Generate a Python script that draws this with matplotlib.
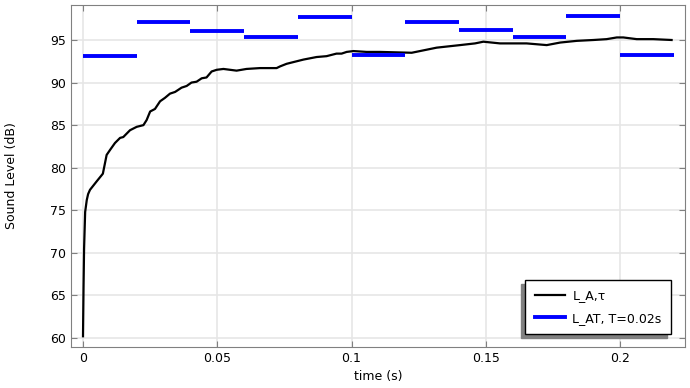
import matplotlib
matplotlib.use("Agg")
import matplotlib.pyplot as plt

# L_A,tau (time-weighted level)
t = [0.0, 0.0002, 0.0004, 0.0008, 0.0014, 0.0019, 0.0026, 0.0051, 0.0069, 0.0074,
     0.0088, 0.0101, 0.0119, 0.0138, 0.0150, 0.0175, 0.0200, 0.0225, 0.0237, 0.0250,
     0.0268, 0.0287, 0.0305, 0.0324, 0.0343, 0.0367, 0.0386, 0.0404, 0.0423, 0.0442,
     0.0460, 0.0479, 0.0498, 0.0523, 0.0572, 0.0609, 0.0659, 0.0721, 0.0734, 0.0758,
     0.0783, 0.0821, 0.0870, 0.0907, 0.0944, 0.0963, 0.0982, 0.1007, 0.1056, 0.1106,
     0.1224, 0.1255, 0.1317, 0.1404, 0.1460, 0.1491, 0.1553, 0.1652, 0.1727, 0.1777,
     0.1839, 0.1901, 0.1950, 0.1988, 0.2012, 0.2062, 0.2124, 0.2192]
la_tau = [60.2, 66.0, 70.5, 74.8, 76.2, 76.9, 77.4, 78.4, 79.1, 79.3,
          81.5, 82.1, 82.9, 83.5, 83.6, 84.4, 84.8, 85.0, 85.6, 86.6,
          86.9, 87.8, 88.2, 88.7, 88.9, 89.4, 89.6, 90.0, 90.1, 90.5,
          90.6, 91.3, 91.5, 91.6, 91.4, 91.6, 91.7, 91.7, 91.9, 92.2,
          92.4, 92.7, 93.0, 93.1, 93.4, 93.4, 93.6, 93.7, 93.6, 93.6,
          93.5, 93.7, 94.1, 94.4, 94.6, 94.8, 94.6, 94.6, 94.4, 94.7,
          94.9, 95.0, 95.1, 95.3, 95.3, 95.1, 95.1, 95.0]

# L_AT per 0.02 s interval
t_start = [0.0, 0.02, 0.04, 0.06, 0.08, 0.10, 0.12, 0.14, 0.16, 0.18, 0.20]
t_end = [0.02, 0.04, 0.06, 0.08, 0.10, 0.12, 0.14, 0.16, 0.18, 0.20, 0.22]
la_t = [93.1, 97.1, 96.1, 95.3, 97.7, 93.2, 97.1, 96.2, 95.3, 97.8, 93.2]

fig = plt.figure(figsize=(6.9, 3.88), dpi=100)
ax = fig.add_axes([0.1029, 0.1057, 0.8899, 0.8814])

ax.plot(t, la_tau, color="black", lw=1.6, label="L_A,τ", zorder=3)
ax.hlines(la_t, t_start, t_end, colors="blue", lw=2.8, zorder=3)
ax.plot([], [], color="blue", lw=2.8, label="L_AT, T=0.02s")

ax.set_xlim(-0.00447, 0.2242)
ax.set_ylim(58.94, 99.11)
ax.set_xticks([0, 0.05, 0.1, 0.15, 0.2])
ax.set_xticklabels(["0", "0.05", "0.1", "0.15", "0.2"])
ax.set_yticks([60, 65, 70, 75, 80, 85, 90, 95])

ax.grid(True, color="#e6e6e6", lw=1.2)
ax.set_axisbelow(True)
for s in ax.spines.values():
    s.set_color("#808080")
ax.tick_params(direction="in", top=True, right=True, color="#808080",
               labelsize=9, length=4)
ax.set_xlabel("time (s)", fontsize=9, labelpad=4)
ax.set_ylabel("Sound Level (dB)", fontsize=9, labelpad=23)

leg = ax.legend(loc="lower right", bbox_to_anchor=(0.977, 0.038), borderaxespad=0,
                fancybox=False, edgecolor="black", fontsize=9,
                shadow={"ox": -3, "oy": -3, "color": "#808080", "alpha": 1},
                handlelength=2.4, handletextpad=0.6, borderpad=0.75,
                labelspacing=0.75, framealpha=1)
leg.get_frame().set_linewidth(1.0)

fig.savefig("out.png", dpi=100)
